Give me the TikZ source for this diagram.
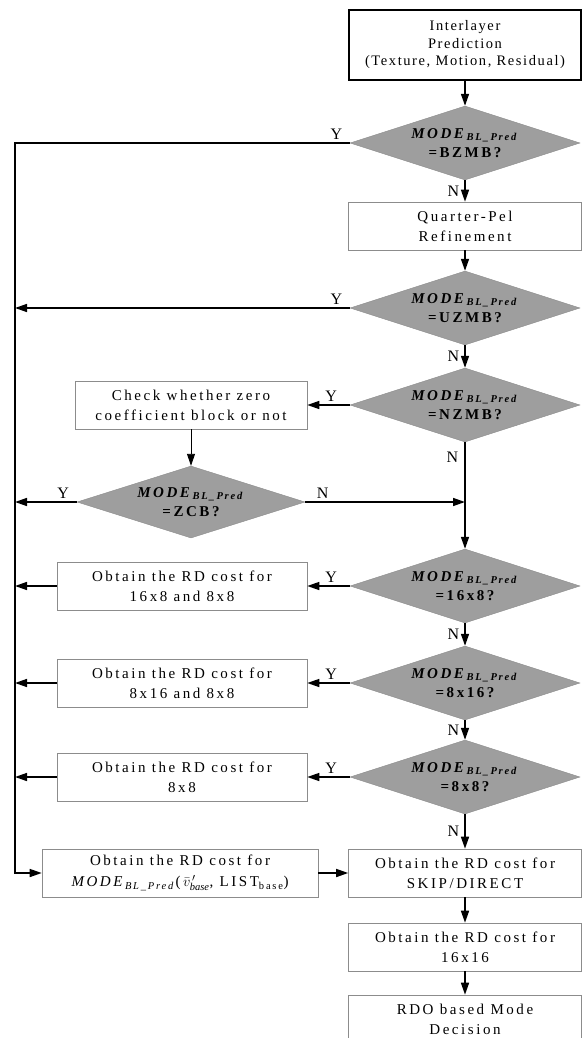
\documentclass[tikz,border=0pt]{standalone}
\usepackage{fontspec}
\setmainfont{Liberation Serif}[LetterSpace=17]
\newfontfamily\topfont{Liberation Serif}[LetterSpace=11]
\usetikzlibrary{arrows.meta,positioning,shapes.geometric,calc}
\definecolor{cdia}{HTML}{9E9E9E}
\definecolor{cedge}{HTML}{8C8C8C}
\tikzset{
  box/.style={draw=cedge,line width=0.6pt,align=center,inner sep=2pt,font=\fontsize{15}{20}\selectfont},
  dia/.style={diamond,draw=cedge,line width=0.4pt,fill=cdia,aspect=3.1,inner sep=0pt,
    minimum width=230pt,minimum height=74pt,align=center,font=\fontsize{15}{19}\selectfont\bfseries},
  lbl/.style={inner sep=0pt,font=\fontsize{16}{16}\selectfont},
  >={Triangle[length=12pt,width=8pt]}
}
\newcommand{\mbl}{\textit{MODE}\textsubscript{\textit{BL\_Pred}}}

\begin{document}
\begin{tikzpicture}[x=1pt,y=-1pt,line width=1.5pt,
    rb/.style={box,minimum width=233pt,minimum height=48pt},
    lb/.style={box,minimum width=250pt,minimum height=48pt},
    ylab/.style={lbl,anchor=south east,xshift=-7pt,yshift=3pt},
    nlab/.style={lbl,anchor=north east,xshift=-6pt,yshift=-9pt}]
  \useasboundingbox (0,0) rectangle (582,1038);
  % right column
  \node[box,draw=black,line width=1.8pt,minimum width=232pt,minimum height=70pt,
    font=\fontsize{14.5}{17.5}\selectfont\topfont] (top) at (465,45) {Interlayer\\Prediction\\(Texture, Motion, Residual)};
  \node[dia] (d1) at (465,143) {\mbl\\=BZMB?};
  \node[rb] (qp) at (465,226) {Quarter-Pel\\Refinement};
  \node[dia] (d2) at (465,308) {\mbl\\=UZMB?};
  \node[dia] (d3) at (465,405) {\mbl\\=NZMB?};
  \node[dia] (d5) at (465,586) {\mbl\\=16x8?};
  \node[dia] (d6) at (465,683) {\mbl\\=8x16?};
  \node[dia] (d7) at (465,777) {\mbl\\=8x8?};
  \node[rb] (skip) at (465,873) {Obtain the RD cost for\\SKIP/DIRECT};
  \node[rb] (b1616) at (465,947) {Obtain the RD cost for\\16x16};
  \node[rb] (rdo) at (465,1019) {RDO based Mode\\Decision};
  % left column
  \node[box,minimum width=232pt,minimum height=48pt] (chk) at (191,405) {Check whether zero\\coefficient block or not};
  \node[dia,minimum width=228pt,minimum height=72pt] (d4) at (191,502) {\mbl\\=ZCB?};
  \node[lb] (b168) at (182,586) {Obtain the RD cost for\\16x8 and 8x8};
  \node[lb] (b816) at (182,683) {Obtain the RD cost for\\8x16 and 8x8};
  \node[lb] (b88) at (182,777) {Obtain the RD cost for\\8x8};
  \node[box,minimum width=276pt,minimum height=48pt,font=\fontsize{15}{21}\selectfont] (bl) at (180,873)
    {Obtain the RD cost for\\\mbl(\,$\bar{v}^{\,\prime}_{\mathit{base}}$, LIST\textsubscript{base})};
  \coordinate (trunk) at (15,143);

  \draw[->] (top) -- (d1);
  \draw[->] (d1.west) node[ylab] {Y} -- (trunk) |- (bl.west);
  \draw[->] (d1) -- node[lbl,left=5pt] {N} (qp);
  \draw[->] (qp) -- (d2);
  \draw[->] (d2.west) node[ylab] {Y} -- (d2.west -| trunk);
  \draw[->] (d2) -- node[lbl,left=5pt] {N} (d3);
  \draw[->] (d3) -- node[pos=0.12,ylab,anchor=south east] {Y} (chk);
  \draw[->,line width=0.9pt] (chk) -- (d4);
  \draw[->] (d4.west) node[ylab] {Y} -- (d4.west -| trunk);
  \draw[->] (d4.east) node[lbl,anchor=south west,xshift=11pt,yshift=3pt] {N} -- (d4.east -| d3.south);
  \draw[->] (d3.south) node[nlab] {N} -- (d5.north);
  \draw[->] (d5) -- node[pos=0.12,ylab,anchor=south east] {Y} (b168);
  \draw[->] (b168) -- (b168.west -| trunk);
  \draw[->] (d5) -- node[lbl,left=5pt] {N} (d6);
  \draw[->] (d6) -- node[pos=0.12,ylab,anchor=south east] {Y} (b816);
  \draw[->] (b816) -- (b816.west -| trunk);
  \draw[->] (d6) -- node[lbl,left=5pt] {N} (d7);
  \draw[->] (d7) -- node[pos=0.12,ylab,anchor=south east] {Y} (b88);
  \draw[->] (b88) -- (b88.west -| trunk);
  \draw[->] (d7) -- node[lbl,left=5pt] {N} (skip);
  \draw[->] (bl) -- (skip);
  \draw[->] (skip) -- (b1616);
  \draw[->] (b1616) -- (rdo);
\end{tikzpicture}
\end{document}
